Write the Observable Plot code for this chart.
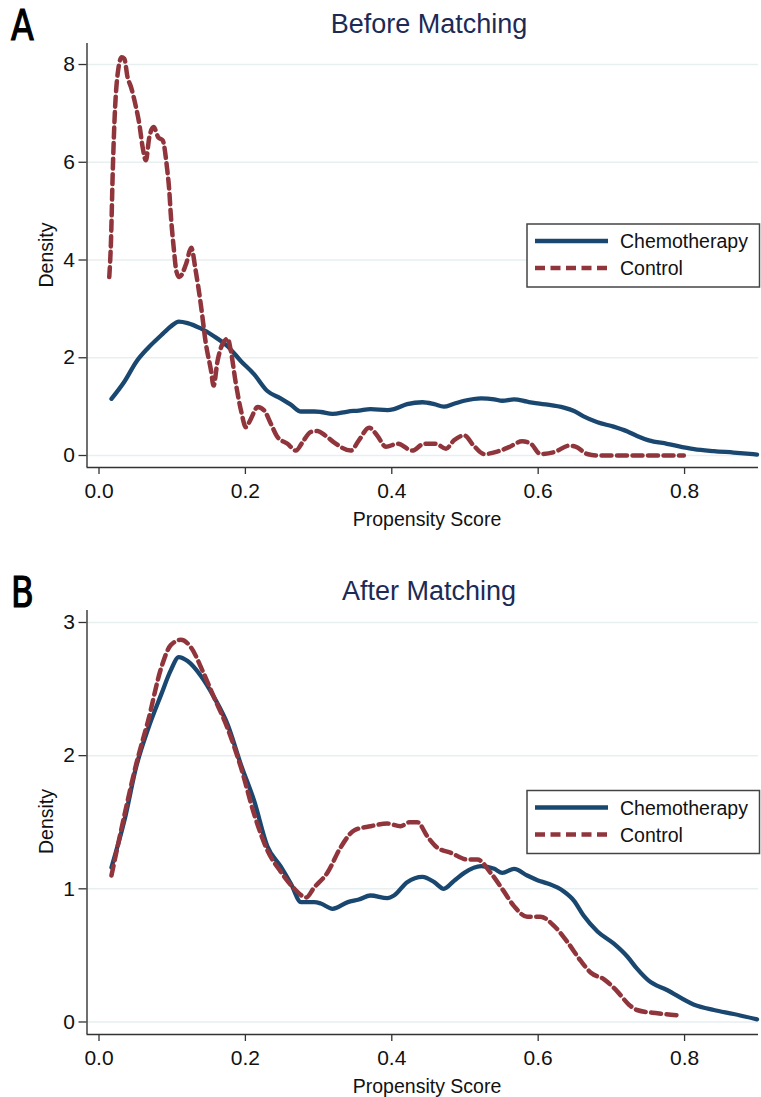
<!DOCTYPE html>
<html>
<head>
<meta charset="utf-8">
<script src="https://cdn.jsdelivr.net/npm/d3@7"></script>
<script src="https://cdn.jsdelivr.net/npm/@observablehq/plot@0.6"></script>
<style>
  html, body { margin: 0; padding: 0; background: #fff; }
  #wrap { position: relative; width: 761px; height: 1097px; background: #fff; overflow: hidden; }
  .panel { position: absolute; left: 0; }
  #overlay { position: absolute; left: 0; top: 0; pointer-events: none; }
</style>
</head>
<body>
<div id="wrap"></div>
<script>
// ---------- data ----------
const panelLetters = ["A", "B"];
const panelTitles = ["Before Matching", "After Matching"];
const seriesNames = ["Chemotherapy", "Control"];
const xAxisTitle = "Propensity Score";
const yAxisTitle = "Density";
const xTicks = [0, 0.2, 0.4, 0.6, 0.8];
const yTicksBefore = [0, 2, 4, 6, 8];
const yTicksAfter = [0, 1, 2, 3];

// Chemotherapy group density (same in both panels)
const chemoX = [0.017, 0.035, 0.051, 0.067, 0.085, 0.098, 0.109, 0.121, 0.139, 0.157,
  0.176, 0.194, 0.212, 0.230, 0.248, 0.262, 0.276, 0.294, 0.303, 0.319,
  0.340, 0.355, 0.371, 0.394, 0.403, 0.421, 0.442, 0.458, 0.471, 0.485,
  0.499, 0.522, 0.540, 0.551, 0.567, 0.585, 0.599, 0.613, 0.635, 0.649,
  0.662, 0.681, 0.703, 0.722, 0.735, 0.751, 0.776, 0.813, 0.840, 0.867, 0.899];
const chemoY = [1.16, 1.52, 1.92, 2.20, 2.46, 2.64, 2.74, 2.71, 2.60, 2.44,
  2.23, 1.93, 1.66, 1.32, 1.17, 1.04, 0.90, 0.90, 0.89, 0.85,
  0.90, 0.92, 0.95, 0.93, 0.95, 1.05, 1.09, 1.05, 1.00, 1.06,
  1.12, 1.17, 1.15, 1.12, 1.15, 1.10, 1.065, 1.04, 0.98, 0.91,
  0.80, 0.68, 0.59, 0.49, 0.40, 0.31, 0.24, 0.13, 0.09, 0.06, 0.02];

// Control group density, before matching
const ctrlBeforeX = [0.014, 0.0164, 0.0187, 0.021, 0.0255, 0.031, 0.0346, 0.039, 0.0437, 0.0505,
  0.055, 0.0596, 0.064, 0.0687, 0.0746, 0.081, 0.087, 0.0928, 0.096, 0.098,
  0.102, 0.106, 0.1097, 0.119, 0.126, 0.132, 0.139, 0.146, 0.153, 0.1565,
  0.162, 0.169, 0.176, 0.180, 0.187, 0.194, 0.2007, 0.2075, 0.2166, 0.2257,
  0.2348, 0.244, 0.2576, 0.269, 0.278, 0.289, 0.298, 0.310, 0.321, 0.344,
  0.355, 0.369, 0.380, 0.392, 0.408, 0.428, 0.444, 0.460, 0.474, 0.485,
  0.499, 0.512, 0.526, 0.544, 0.560, 0.578, 0.590, 0.603, 0.622, 0.642,
  0.651, 0.667, 0.681, 0.740, 0.799];
const ctrlBeforeY = [3.65, 4.40, 5.76, 6.79, 7.81, 8.15, 8.12, 7.74, 7.54, 7.13,
  6.79, 6.31, 6.04, 6.51, 6.72, 6.51, 6.45, 5.90, 5.42, 4.95,
  4.26, 3.75, 3.65, 3.92, 4.25, 3.79, 3.10, 2.29, 1.74, 1.43,
  1.94, 2.29, 2.39, 2.15, 1.47, 0.92, 0.58, 0.75, 0.99, 0.92,
  0.65, 0.375, 0.24, 0.10, 0.27, 0.48, 0.50, 0.40, 0.27, 0.10,
  0.31, 0.57, 0.41, 0.18, 0.24, 0.10, 0.24, 0.24, 0.14, 0.31,
  0.41, 0.20, 0.03, 0.08, 0.17, 0.29, 0.24, 0.03, 0.07, 0.20,
  0.18, 0.03, 0.00, 0.00, 0.00];

// Control group density, after matching
const ctrlAfterX = [0.017, 0.035, 0.051, 0.067, 0.085, 0.098, 0.112, 0.126, 0.142, 0.157,
  0.176, 0.194, 0.212, 0.230, 0.248, 0.267, 0.283, 0.294, 0.312, 0.330,
  0.349, 0.371, 0.394, 0.412, 0.424, 0.435, 0.449, 0.462, 0.481, 0.503,
  0.517, 0.535, 0.552, 0.567, 0.585, 0.603, 0.622, 0.640, 0.658, 0.672,
  0.690, 0.708, 0.724, 0.735, 0.763, 0.792];
const ctrlAfterY = [1.10, 1.56, 1.94, 2.26, 2.66, 2.83, 2.87, 2.81, 2.63, 2.44,
  2.20, 1.91, 1.56, 1.29, 1.13, 1.00, 0.935, 1.01, 1.12, 1.31,
  1.44, 1.47, 1.49, 1.47, 1.50, 1.50, 1.39, 1.31, 1.27, 1.22,
  1.22, 1.12, 0.99, 0.87, 0.79, 0.79, 0.72, 0.60, 0.46, 0.37,
  0.32, 0.23, 0.13, 0.09, 0.065, 0.05];

// ---------- styling ----------
const NAVY = "#1a476f";
const MAROON = "#90353b";
const GRID = "#e7eff1";
const AXIS = "#333";
const TITLE = "#1c2a55";
const FONT = "'Liberation Sans', Arial, Helvetica, sans-serif";
const DASH = "10,5.5";
const TICK_FONT = 21;

const wrap = document.getElementById("wrap");

function toRows(xs, ys) { return xs.map((x, i) => ({x, y: ys[i]})); }

const X_DOMAIN = [-0.0164, 0.901];

function makePanel(ctrlX, ctrlY, yDomain, yTicks) {
  const chemo = toRows(chemoX, chemoY);
  const ctrl = toRows(ctrlX, ctrlY);
  return Plot.plot({
    width: 761,
    height: 545,
    marginLeft: 86.5,
    marginRight: 3,
    marginTop: 43,
    marginBottom: 78,
    x: {domain: X_DOMAIN},
    y: {domain: yDomain},
    style: {fontFamily: FONT, fontSize: TICK_FONT + "px", color: "#111", background: "transparent", overflow: "visible"},
    marks: [
      Plot.gridY({ticks: yTicks, stroke: GRID, strokeOpacity: 1, strokeWidth: 1.5}),
      Plot.axisY({ticks: yTicks, tickSize: 8, tickPadding: 4, tickFormat: d3.format("d"), label: null,
        fontSize: TICK_FONT, stroke: AXIS, strokeWidth: 1.3}),
      Plot.axisX({ticks: xTicks, tickSize: 7, tickPadding: 9, tickFormat: d3.format(".1f"), label: null,
        fontSize: TICK_FONT, stroke: AXIS, strokeWidth: 1.3}),
      Plot.ruleX([X_DOMAIN[0]], {stroke: AXIS, strokeWidth: 1.4}),
      Plot.ruleY([yDomain[0]], {stroke: AXIS, strokeWidth: 1.4}),
      Plot.line(chemo, {x: "x", y: "y", stroke: NAVY, strokeWidth: 4.3, curve: "monotone-x", strokeLinejoin: "round"}),
      Plot.line(ctrl, {x: "x", y: "y", stroke: MAROON, strokeWidth: 4.5, strokeDasharray: DASH, curve: "monotone-x"})
    ]
  });
}

const panels = [
  {top: 0, chart: makePanel(ctrlBeforeX, ctrlBeforeY, [-0.2455, 8.43], yTicksBefore)},
  {top: 566.5, chart: makePanel(ctrlAfterX, ctrlAfterY, [-0.094, 3.09], yTicksAfter)}
];
for (const p of panels) {
  const d = document.createElement("div");
  d.className = "panel";
  d.style.top = p.top + "px";
  d.appendChild(p.chart);
  wrap.appendChild(d);
}

// ---------- annotations overlay (titles, letters, axis titles, legends) ----------
const svg = d3.select(wrap).append("svg")
  .attr("id", "overlay").attr("width", 761).attr("height", 1097);

panels.forEach((p, i) => {
  const g = svg.append("g").attr("transform", `translate(0,${p.top})`);
  g.append("text").attr("transform", "translate(11,40) scale(0.88,1)")
    .attr("font-family", "'DejaVu Sans Condensed', 'DejaVu Sans', sans-serif")
    .attr("font-size", 42).attr("fill", "#000")
    .attr("stroke", "#000").attr("stroke-width", 1.2).text(panelLetters[i]);
  g.append("text").attr("x", 429).attr("y", 33).attr("text-anchor", "middle")
    .attr("font-family", FONT).attr("font-size", 27).attr("fill", TITLE).text(panelTitles[i]);
  g.append("text").attr("x", 427).attr("y", 526).attr("text-anchor", "middle")
    .attr("font-family", FONT).attr("font-size", 19.5).attr("fill", "#111").text(xAxisTitle);
  g.append("text").attr("transform", "translate(53,255) rotate(-90)").attr("text-anchor", "middle")
    .attr("font-family", FONT).attr("font-size", 19.5).attr("fill", "#111").text(yAxisTitle);
  // legend
  const lg = g.append("g").attr("transform", "translate(527,224)");
  lg.append("rect").attr("x", 0).attr("y", 0).attr("width", 232.5).attr("height", 63)
    .attr("fill", "#fff").attr("stroke", "#444").attr("stroke-width", 1.5);
  const rows = [
    {name: seriesNames[0], color: NAVY, dash: null, w: 4.3},
    {name: seriesNames[1], color: MAROON, dash: DASH, w: 4.5}
  ];
  rows.forEach((r, j) => {
    const y = 17 + j * 27;
    lg.append("line").attr("x1", 8).attr("x2", 81).attr("y1", y).attr("y2", y)
      .attr("stroke", r.color).attr("stroke-width", r.w)
      .attr("stroke-dasharray", r.dash);
    lg.append("text").attr("x", 93).attr("y", y + 7)
      .attr("font-family", FONT).attr("font-size", 19.5).attr("fill", "#111").text(r.name);
  });
});
</script>
</body>
</html>
